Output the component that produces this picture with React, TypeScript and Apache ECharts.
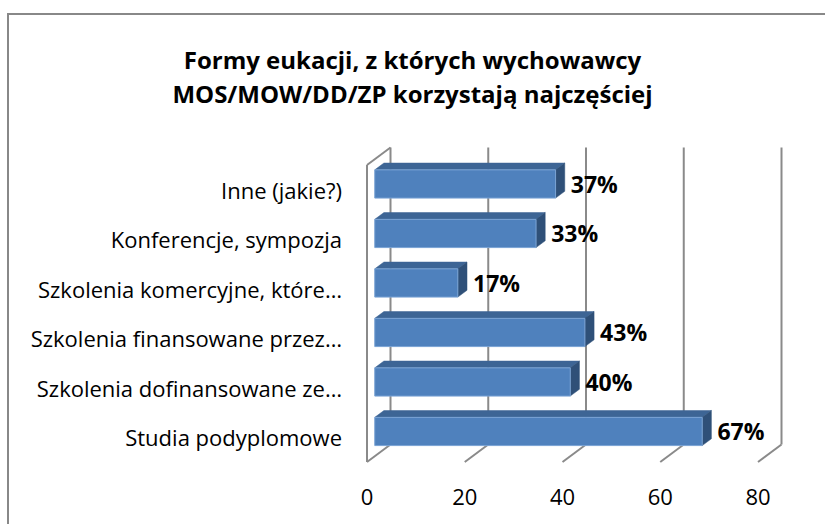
import React, { useEffect, useRef } from "react";
import * as echarts from "echarts";

const titleLines = ["Formy eukacji, z których wychowawcy", "MOS/MOW/DD/ZP korzystają najczęściej"];
const categories = [
  "Studia podyplomowe",
  "Szkolenia dofinansowane ze…",
  "Szkolenia finansowane przez…",
  "Szkolenia komercyjne, które…",
  "Konferencje, sympozja",
  "Inne (jakie?)",
];
const values = [67, 40, 43, 17, 33, 37];
const xTicks = [0, 20, 40, 60, 80];

const FONT = "'Open Sans', Lato, sans-serif";
const DEPTH = [23.5, -17.5];
const FRONT_FRAC = 0.33;
const BACK_FRAC = 0.72;
const GRID_COLOR = "#8a8a8a";

export default function App() {
  const ref = useRef<HTMLDivElement>(null);
  useEffect(() => {
    if (!ref.current) return;
    const chart = echarts.init(ref.current, undefined, { renderer: "svg" });

    const frameRender = (params: any, api: any) => {
      const v = api.value(0);
      const cs = params.coordSys;
      const top = cs.y;
      const bottom = cs.y + cs.height;
      const x = api.coord([v, 0])[0];
      const style = { stroke: GRID_COLOR, lineWidth: 2, fill: null };
      const children: any[] = [
        { type: "line", shape: { x1: x + DEPTH[0], y1: top + DEPTH[1], x2: x + DEPTH[0], y2: bottom + DEPTH[1] }, style },
        { type: "line", shape: { x1: x, y1: bottom, x2: x + DEPTH[0], y2: bottom + DEPTH[1] }, style },
      ];
      if (v === 0) {
        children.push({ type: "line", shape: { x1: x, y1: top, x2: x, y2: bottom }, style });
        children.push({ type: "line", shape: { x1: x, y1: top, x2: x + DEPTH[0], y2: top + DEPTH[1] }, style });
      }
      return { type: "group", children };
    };

    const barRender = (params: any, api: any) => {
      const val = api.value(0);
      const cat = api.value(1);
      const p0 = api.coord([0, cat]);
      const p1 = api.coord([val, cat]);
      const band = api.size([0, 1])[1];
      const h = band * 0.57;
      const fdx = DEPTH[0] * FRONT_FRAC;
      const fdy = DEPTH[1] * FRONT_FRAC;
      const ddx = DEPTH[0] * (BACK_FRAC - FRONT_FRAC);
      const ddy = DEPTH[1] * (BACK_FRAC - FRONT_FRAC);
      const x0 = p0[0] + fdx;
      const x1 = p1[0] + fdx;
      const cy = p0[1] + fdy;
      const top = cy - h / 2;
      const bottom = cy + h / 2;
      return {
        type: "group",
        children: [
          {
            type: "polygon",
            shape: { points: [[x0, top], [x1, top], [x1 + ddx, top + ddy], [x0 + ddx, top + ddy]] },
            style: { fill: "#3d6595", stroke: "#3d6595", lineWidth: 0.5 },
          },
          {
            type: "polygon",
            shape: { points: [[x1, top], [x1 + ddx, top + ddy], [x1 + ddx, bottom + ddy], [x1, bottom]] },
            style: { fill: "#2f5078", stroke: "#2f5078", lineWidth: 0.5 },
          },
          {
            type: "rect",
            shape: { x: x0, y: top, width: x1 - x0, height: h },
            style: { fill: "#4f81bd", stroke: "#7aa3d4", lineWidth: 1 },
          },
          {
            type: "text",
            style: {
              x: x1 + ddx + 6,
              y: cy,
              text: val + "%",
              fill: "#000",
              font: "bold 23px " + FONT,
              verticalAlign: "middle",
              align: "left",
            },
          },
        ],
      };
    };

    chart.setOption({
      animation: false,
      backgroundColor: "#ffffff",
      title: {
        text: titleLines.join("\n"),
        left: "center",
        top: 37,
        textStyle: { fontFamily: FONT, fontWeight: "bold", fontSize: 24, color: "#000", lineHeight: 34 },
      },
      graphic: [
        {
          type: "rect",
          shape: { x: 8, y: 14, width: 840, height: 540 },
          style: { fill: null, stroke: "#888888", lineWidth: 2 },
          silent: true,
        },
      ],
      grid: { left: 367, right: 67, top: 165, bottom: 62 },
      xAxis: {
        type: "value",
        min: 0,
        max: 80,
        interval: 20,
        axisLine: { show: false },
        axisTick: { show: false },
        splitLine: { show: false },
        axisLabel: { fontFamily: FONT, fontSize: 22, color: "#000", margin: 23 },
      },
      yAxis: {
        type: "category",
        data: categories,
        axisLine: { show: false },
        axisTick: { show: false },
        splitLine: { show: false },
        axisLabel: { fontFamily: FONT, fontSize: 22, color: "#000", margin: 25 },
      },
      series: [
        {
          type: "custom",
          renderItem: frameRender,
          data: xTicks.map((t) => [t, 0]),
          encode: { x: 0, y: 1 },
          clip: false,
          silent: true,
          z: 1,
        },
        {
          type: "custom",
          renderItem: barRender,
          data: values.map((v, i) => [v, i]),
          encode: { x: 0, y: 1 },
          clip: false,
          z: 2,
        },
      ],
    });
    return () => chart.dispose();
  }, []);
  return <div ref={ref} style={{ position: "absolute", left: 0, top: 0, width: 825, height: 524 }} />;
}
